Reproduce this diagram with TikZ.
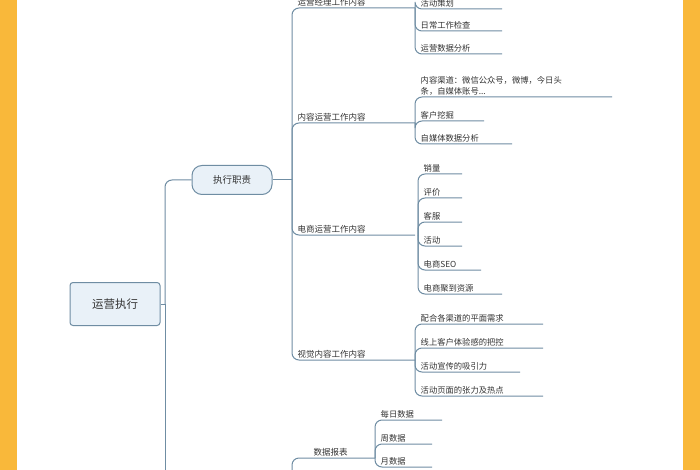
\documentclass[tikz,border=0pt]{standalone}
\usepackage{fontspec}
\setmainfont{Noto Sans CJK SC}
\definecolor{conncol}{HTML}{6F8DA3}
\definecolor{boxfill}{HTML}{E9F1F8}
\definecolor{orangebar}{HTML}{F9B83A}
\definecolor{txt}{HTML}{333333}
\tikzset{
  conn/.style={draw=conncol, line width=1pt, rounded corners=7pt},
  leaftxt/.style={font=\fontsize{8.3}{10.5}\selectfont, text=txt, inner sep=1.5pt},
  grptxt/.style={font=\fontsize{8.5}{10.5}\selectfont, text=txt, inner sep=1.5pt},
}
\newcommand\leaf[6]{%
  \coordinate (#1e) at (#5,#4);
  \draw[conn] (#2,#3) |- (#1e);
  \node[leaftxt, anchor=south west] (#1) at (#2+4,#4) {#6};
}
\begin{document}
\begin{tikzpicture}[x=1pt,y=-1pt]
\useasboundingbox (0,0) rectangle (700,470);
\clip (0,0) rectangle (700,470);
\fill[white] (0,0) rectangle (700,470);
\fill[orangebar] (0,0) rectangle (17,470);
\fill[orangebar] (683,0) rectangle (700,470);

% root
\node[draw=conncol, line width=1pt, fill=boxfill, rounded corners=3pt,
      minimum width=90pt, minimum height=43pt, font=\fontsize{11.5}{13}\selectfont, text=txt]
      (root) at (115,304) {运营执行};
\coordinate (sp1) at (165,304);
\draw[conn] (root.east) -- (sp1);
\node[draw=conncol, line width=1pt, fill=boxfill, rounded corners=10pt,
      minimum width=80pt, minimum height=29pt, font=\fontsize{9.5}{11}\selectfont, text=txt]
      (zz) at (232,180) {执行职责};
\draw[conn] (sp1) |- (zz.west);
\coordinate (sp1b) at (165,480);
\draw[conn] (sp1) -- (sp1b);

% second spine
\coordinate (sp2) at (292,180);
\draw[conn] (zz.east) -- (sp2);
\foreach \n/\y/\t in {g1/8/运营经理工作内容, g2/123/内容运营工作内容, g3/235/电商运营工作内容, g4/360/视觉内容工作内容}{
  \coordinate (\n e) at (415,\y);
  \draw[conn] (sp2) |- (\n e);
  \node[grptxt, anchor=south west] (\n) at (296,\y) {\t};
}

% group 1
\leaf{a1}{415}{8}{9}{502}{活动策划}
\leaf{a2}{415}{8}{31}{502}{日常工作检查}
\leaf{a3}{415}{8}{54}{502}{运营数据分析}

% group 2
\coordinate (b1e) at (612,97);
\draw[conn] (415,123) |- (b1e);
\node[leaftxt, anchor=south west, align=left] (b1) at (419,97) {内容渠道：微信公众号，微博，今日头\\条，自媒体账号...};
\leaf{b2}{415}{123}{121}{484}{客户挖掘}
\leaf{b3}{415}{123}{144}{512}{自媒体数据分析}

% group 3
\leaf{c1}{418}{235}{174}{462}{销量}
\leaf{c2}{418}{235}{198}{462}{评价}
\leaf{c3}{418}{235}{222}{462}{客服}
\leaf{c4}{418}{235}{246}{462}{活动}
\leaf{c5}{418}{235}{270}{481}{电商SEO}
\leaf{c6}{418}{235}{294}{502}{电商聚到资源}

% group 4
\leaf{d1}{415}{360}{324}{543}{配合各渠道的平面需求}
\leaf{d2}{415}{360}{348}{543}{线上客户体验感的把控}
\leaf{d3}{415}{360}{372}{520}{活动宣传的吸引力}
\leaf{d4}{415}{360}{396}{543}{活动页面的张力及热点}

% group 5
\coordinate (sp3) at (292,480);
\coordinate (g5e) at (375,458);
\draw[conn] (sp3) |- (g5e);
\node[grptxt, anchor=south west] (g5) at (312,458) {数据报表};
\leaf{e1}{375}{458}{420}{442}{每日数据}
\leaf{e2}{375}{458}{444}{432}{周数据}
\leaf{e3}{375}{458}{467}{432}{月数据}
\end{tikzpicture}
\end{document}
